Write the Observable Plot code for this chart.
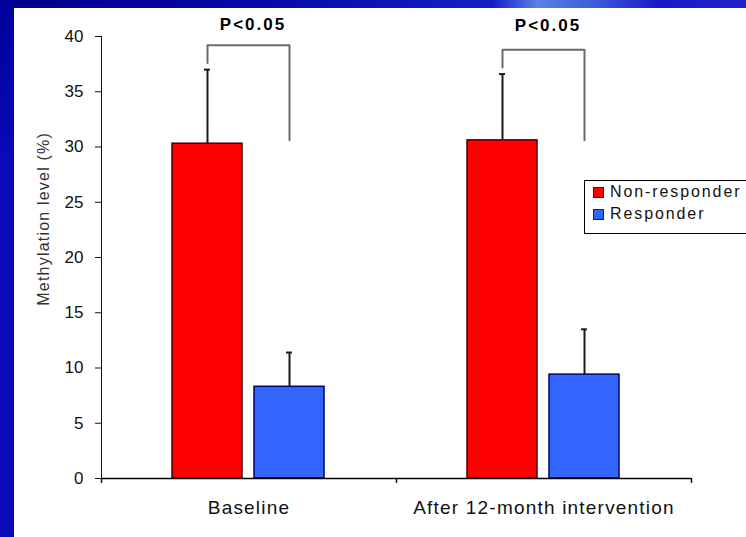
<!DOCTYPE html>
<html><head><meta charset="utf-8">
<script src="https://cdn.jsdelivr.net/npm/d3@7"></script>
<script src="https://cdn.jsdelivr.net/npm/@observablehq/plot@0.6"></script>
<style>
html,body{margin:0;padding:0;width:746px;height:537px;overflow:hidden;background:#0a0ab8;}
#topband{position:absolute;left:0;top:0;width:746px;height:8px;background:linear-gradient(90deg,#00008c 0%,#0808a8 35%,#1420c4 66%,#5a80e8 72%,#3c5cd8 80%,#1a1ac4 88%,#2222c8 100%);}
#leftband{position:absolute;left:0;top:0;width:14px;height:537px;background:linear-gradient(180deg,#00009a 0%,#0a0ab8 30%,#0a0ab8 100%);}
#panel{position:absolute;left:14px;top:8px;width:732px;height:529px;background:#fff;}
#chart{position:absolute;left:0;top:0;}
#legend{position:absolute;left:584px;top:180px;width:180px;height:52px;border:1.5px solid #000;background:#fff;font-family:'Liberation Sans',Arial,sans-serif;font-size:16px;letter-spacing:1.9px;color:#111;}
#legend .row{height:22px;line-height:22px;display:flex;align-items:center;white-space:nowrap;}
#legend .sw{width:9px;height:9px;border:1px solid #222;margin-left:8px;margin-right:6px;flex:none;}
</style>
</head><body>
<div id="topband"></div><div id="leftband"></div><div id="panel"></div>
<div id="chart"></div>
<div id="legend"></div>
<script>
// ---- data ----
const groups = ["Baseline", "After 12-month intervention"];
const series = ["Non-responder", "Responder"];
const nonResponder = [30.3, 30.6];
const responder = [8.3, 9.4];
const nonResponderErr = [6.7, 6.0];
const responderErr = [3.1, 4.1];
const bracketLeft = [37.6, 37.2];
const bracketTop = [39.2, 38.8];
const bracketRight = [30.6, 30.6];
const pLabels = ["P<0.05", "P<0.05"];
const pLabelY = [41.1, 41.0];
const yTicks = [0, 5, 10, 15, 20, 25, 30, 35, 40];
const yLabel = "Methylation level (%)";
const yLabelPos = 23.5;
const colors = ["#ff0000", "#3366ff"];
const outline = ["#4a0000", "#000070"];

// ---- tables ----
const rows = groups.flatMap((g, gi) => [
  {group: g, series: series[0], value: nonResponder[gi], err: nonResponderErr[gi]},
  {group: g, series: series[1], value: responder[gi], err: responderErr[gi]}
]);
const bracketRows = groups.flatMap((g, gi) => [
  {group: g, series: series[0], y: bracketLeft[gi]},
  {group: g, series: series[0], y: bracketTop[gi]},
  {group: g, series: series[1], y: bracketTop[gi]},
  {group: g, series: series[1], y: bracketRight[gi]}
]);
const pRows = groups.map((g, gi) => ({group: g, label: pLabels[gi], y: pLabelY[gi]}));

const W = 746, H = 537, mL = 101, mR = 55, mT = 36, mB = 59;
const bandW = (W - mL - mR) / groups.length;

const plot = Plot.plot({
  width: W, height: H,
  marginLeft: mL, marginRight: mR, marginTop: mT, marginBottom: mB,
  style: {background: "transparent", fontFamily: "'Liberation Sans', Arial, sans-serif", fontSize: "17px", color: "#111"},
  fx: {domain: groups, padding: 0, axis: null},
  x: {domain: series, paddingInner: 0.145, paddingOuter: 0.86, axis: null},
  y: {domain: [0, 40], ticks: yTicks, tickSize: 6, tickPadding: 12, line: true, label: null},
  marks: [
    ...series.map((s, i) => Plot.barY(rows.filter(r => r.series === s), {
      fx: "group", x: "series", y: "value", fill: colors[i], stroke: outline[i], strokeWidth: 1.5
    })),
    Plot.ruleY([0], {stroke: "#000", strokeWidth: 1.5}),
    Plot.ruleX(rows, {fx: "group", x: "series", y1: "value", y2: d => d.value + d.err, stroke: "#1a1a1a", strokeWidth: 2}),
    Plot.tickY(rows, {fx: "group", x: "series", y: d => d.value + d.err, insetLeft: 32, insetRight: 32, stroke: "#1a1a1a", strokeWidth: 2}),
    Plot.line(bracketRows, {fx: "group", x: "series", y: "y", z: "group", stroke: "#6a6a6a", strokeWidth: 2}),
    Plot.text(pRows, {fx: "group", y: "y", text: "label", fontWeight: "bold", fontSize: 17, dx: 4, fill: "#000", ariaDescription: "plabel"}),
    Plot.text([{group: groups[0], y: yLabelPos, label: yLabel}], {
      fx: "group", y: "y", text: "label", frameAnchor: "left", textAnchor: "middle", dx: -58, rotate: -90, fontSize: 16, fill: "#333", ariaDescription: "ylabel"
    }),
    Plot.axisFx({anchor: "bottom", tickSize: 0, tickPadding: 22, fontSize: 19, label: null}),
    Plot.axisFx({anchor: "bottom", tickSize: 5, text: null, label: null, dx: -bandW / 2, strokeWidth: 1.5}),
    Plot.axisFx({anchor: "bottom", ticks: [groups[groups.length - 1]], tickSize: 5, text: null, label: null, dx: bandW / 2, strokeWidth: 1.5})
  ]
});
document.getElementById("chart").appendChild(plot);
const s = d3.select(plot);
s.selectAll('g[aria-label="fx-axis tick label"] text').style("letter-spacing", "1.2px");
s.selectAll('g[aria-description="ylabel"] text').style("letter-spacing", "1.2px");
s.selectAll('g[aria-description="plabel"] text').style("letter-spacing", "2px");

// legend
const leg = d3.select("#legend");
series.forEach((name, i) => {
  const r = leg.append("div").attr("class", "row");
  r.append("div").attr("class", "sw").style("background", colors[i]);
  r.append("span").text(name);
});
</script>
</body></html>
